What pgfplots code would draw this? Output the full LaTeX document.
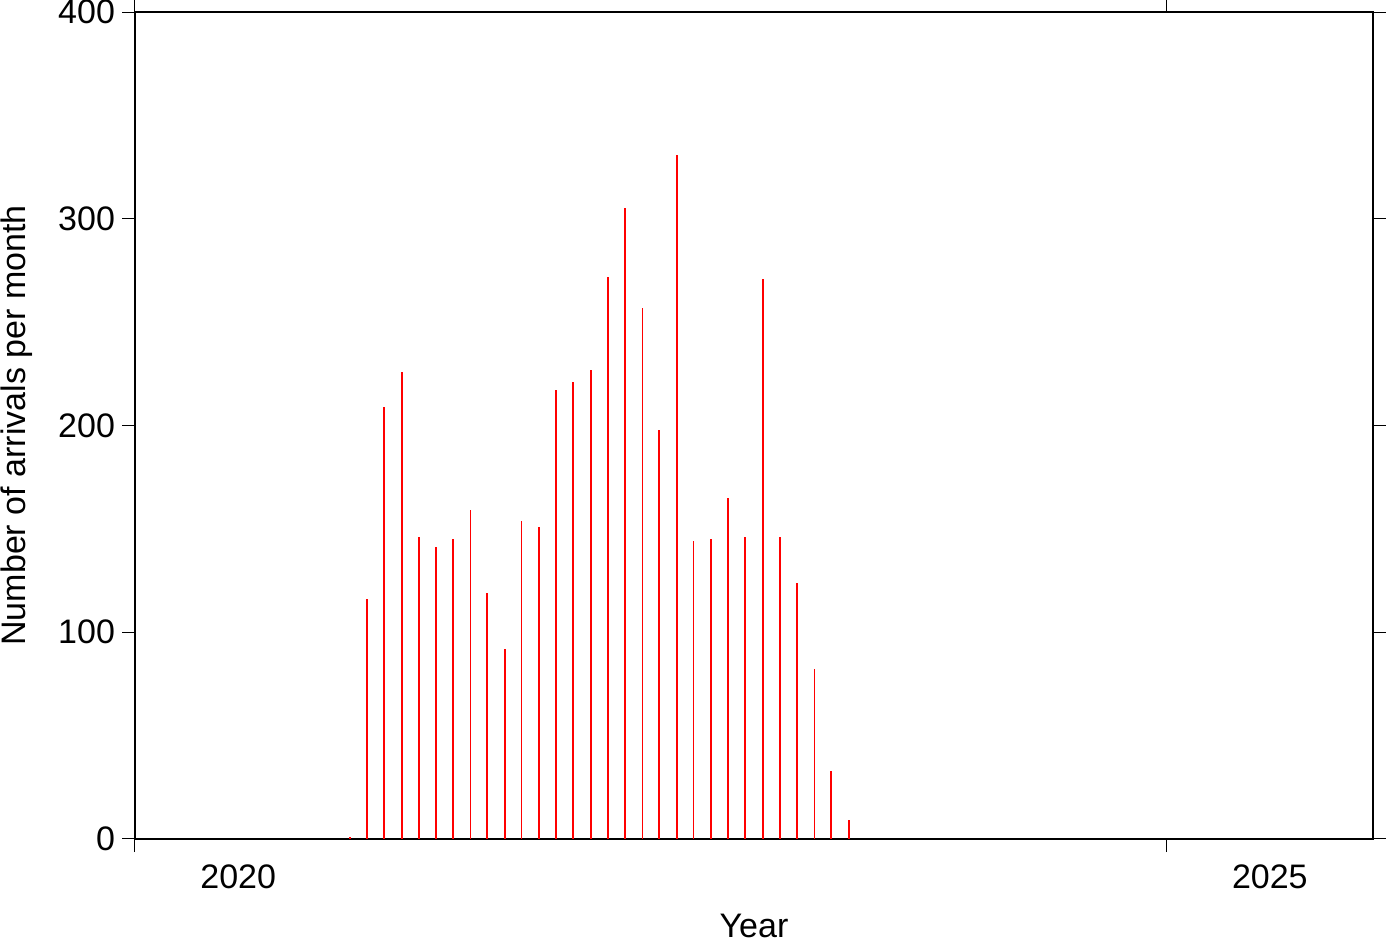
\documentclass[border=0pt]{standalone}
\usepackage{fontspec}
\setmainfont{Liberation Sans}
\usepackage{pgfplots}
\pgfplotsset{compat=1.18}
\usepackage{pgfplotstable}
\usetikzlibrary{calc}

% decimal year (mid-month), arrivals per month
\pgfplotstableread{
x count
2021.0417 1
2021.1250 116
2021.2083 209
2021.2917 226
2021.3750 146
2021.4583 141
2021.5417 145
2021.7083 119
2021.7917 92
2021.9583 151
2022.0417 217
2022.1250 221
2022.2083 227
2022.2917 272
2022.3750 305
2022.5417 198
2022.6250 331
2022.7917 145
2022.8750 165
2022.9583 146
2023.0417 271
2023.1250 146
2023.2083 124
2023.3750 33
2023.4583 9
}\thickdata
\pgfplotstableread{
x count
2021.6250 159
2021.8750 154
2022.4583 257
2022.7083 144
2023.2917 82
}\thindata

\begin{document}
\begin{tikzpicture}
\begin{axis}[
  width=619pt, height=413.5pt, scale only axis,
  xmin=2020, xmax=2026, ymin=0, ymax=400,
  xtick={2020,2025}, xticklabels={},
  extra x ticks={2020.5,2025.5},
  extra x tick labels={2020,2025},
  extra x tick style={major tick length=0pt},
  ytick={0,100,200,300,400},
  tick align=outside,
  major tick length=6.5pt,
  minor tick num=0,
  tick style={line width=0.5pt, black},
  axis line style={line width=1pt},
  ticklabel style={font=\fontsize{17}{20}\selectfont},
  xticklabel style={yshift=-9.5pt},
  /pgf/number format/assume math mode=true,
  xlabel={Year}, ylabel={Number of arrivals per month},
  label style={font=\fontsize{17}{20}\selectfont},
  xlabel style={at={(axis description cs:0.5,0)}, anchor=base, yshift=-49pt},
  ylabel style={at={(axis description cs:0,0.5)}, anchor=base, yshift=54.5pt},
  clip=false,
]
\addplot[ycomb, red, line width=1pt, no marks] table[x=x, y=count] {\thickdata};
\addplot[ycomb, red, line width=0.5pt, no marks] table[x=x, y=count] {\thindata};
\end{axis}
\pgfresetboundingbox
\path[use as bounding box] ($(current axis.south west)+(-67.5pt,-51.5pt)$) rectangle ($(current axis.north east)+(7pt,6pt)$);
\end{tikzpicture}
\end{document}
